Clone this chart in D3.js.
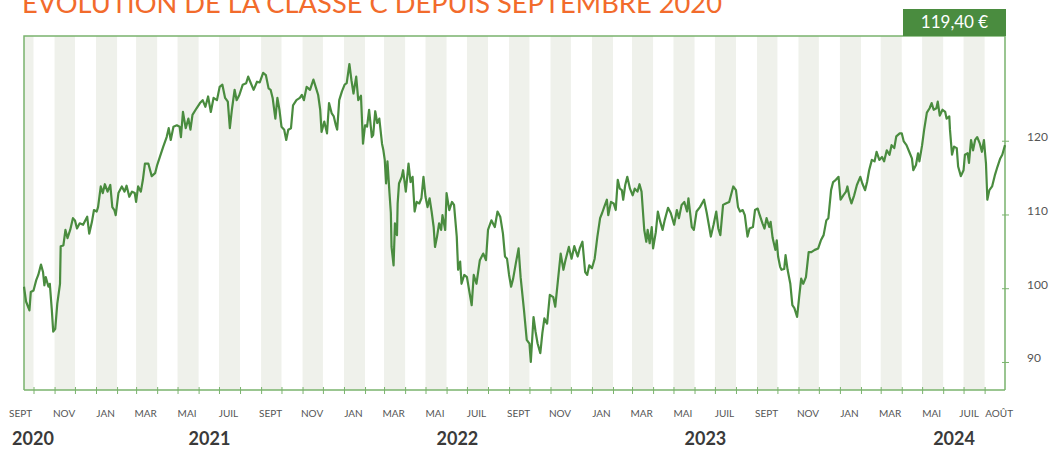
<!DOCTYPE html>
<html>
<head>
<meta charset="utf-8">
<script src="https://cdn.jsdelivr.net/npm/d3@7"></script>
<style>
  body { margin: 0; background: #fff; }
  svg { display: block; font-family: Lato, "Open Sans", sans-serif; }
</style>
</head>
<body>
<div id="chart"></div>
<script>
// series: days since startDate, and the share value
const startDate = "2020-09-17";
const endDate = "2024-08-31";
const seriesDays = [
  0,3,8,10,14,18,21,25,28,30,32,36,38,41,43,46,49,53,54,58,61,64,68,72,75,78,82,87,93,96,
  100,103,107,109,113,116,119,123,127,130,133,135,139,144,148,151,155,159,163,165,168,172,175,178,183,188,193,196,200,205,
  210,213,216,220,225,229,231,234,238,242,245,248,254,259,263,267,271,275,279,284,288,292,296,300,303,306,310,313,317,322,
  327,330,333,338,343,347,352,356,360,363,366,370,373,376,379,383,386,389,393,396,401,406,409,412,416,421,426,430,433,436,
  438,442,446,449,453,456,459,461,464,468,472,475,479,482,485,489,492,496,499,502,505,508,512,514,517,520,523,527,529,531,
  533,535,538,540,541,544,546,549,550,552,556,558,562,566,569,572,575,578,582,585,588,591,594,597,600,603,605,608,611,614,
  616,620,622,626,630,633,637,639,642,644,648,652,656,659,662,666,671,676,680,683,688,693,697,701,705,708,711,714,717,720,
  724,728,731,736,740,744,746,750,753,756,760,763,766,770,774,779,782,787,790,794,797,802,806,810,815,818,822,826,829,832,
  836,840,844,848,851,854,858,860,864,868,871,874,877,880,882,885,888,892,896,899,903,906,909,913,916,918,921,924,926,930,
  933,936,940,943,948,952,957,961,964,968,972,976,978,980,983,986,990,995,1001,1005,1009,1011,1015,1019,1022,1025,1029,1033,1038,1044,
  1048,1051,1054,1058,1061,1065,1068,1073,1076,1080,1083,1087,1090,1093,1097,1099,1102,1106,1108,1110,1113,1115,1119,1121,1124,1128,1131,1134,1138,1141,
  1144,1147,1151,1155,1159,1164,1169,1173,1177,1181,1184,1188,1191,1195,1199,1202,1206,1210,1212,1215,1218,1222,1226,1231,1234,1238,1241,1244,1248,1252,
  1255,1259,1263,1266,1270,1274,1277,1281,1284,1289,1292,1295,1299,1303,1307,1309,1313,1316,1318,1322,1325,1329,1333,1336,1339,1343,1345,1348,1352,1356,
  1358,1362,1363,1366,1369,1373,1375,1379,1383,1385,1389,1391,1394,1397,1400,1403,1407,1410,1413,1416,1418,1421,1425,1429,1433,1437,1440,1444
];
const seriesValues = [
  100.2,98.2,97.0,99.5,99.7,101.1,101.8,103.2,102.2,100.4,101.5,100.2,100.6,97.0,94.1,94.5,97.9,100.6,105.7,105.8,107.9,106.8,107.9,109.5,109.2,108.1,108.8,108.6,109.7,107.4,
  109.0,110.6,110.4,111.0,113.8,112.9,114.1,113.1,114.0,111.0,110.6,109.9,112.9,113.8,113.1,113.9,112.4,113.1,112.9,111.7,113.8,113.1,114.7,116.9,116.9,115.2,115.6,116.7,117.8,119.2,
  120.5,121.7,120.1,121.9,122.1,121.9,120.5,123.9,121.7,123.0,121.5,123.5,124.4,125.1,125.5,124.6,126.0,123.9,125.8,125.5,127.3,127.6,125.8,125.3,121.7,124.2,126.9,125.5,126.2,127.6,
  127.8,128.7,128.0,126.9,128.0,127.9,129.2,128.9,127.1,126.9,125.8,123.0,125.8,124.2,121.9,121.5,120.1,121.5,121.7,124.8,125.5,125.8,126.2,125.5,127.3,126.9,128.3,127.1,126.2,124.2,
  121.2,122.6,121.0,125.1,123.7,123.3,122.1,121.5,125.5,126.7,127.6,127.8,130.4,128.2,126.4,128.7,125.5,126.1,119.6,122.1,121.9,124.2,120.5,120.8,124.0,122.4,123.0,119.6,118.7,117.4,
  114.2,117.2,112.9,110.2,105.6,103.1,108.8,107.2,111.5,114.2,115.1,116.0,113.1,116.9,114.4,115.1,110.4,111.7,111.5,112.2,115.1,112.4,111.0,112.2,110.4,108.3,105.6,107.0,108.8,107.9,
  109.9,107.9,112.9,110.6,111.7,111.3,107.0,102.5,103.6,100.6,101.8,101.5,99.3,97.7,101.8,100.6,103.8,104.7,103.8,107.9,109.2,108.3,110.4,109.7,107.4,104.3,104.0,101.8,100.2,101.3,
  103.4,105.4,101.5,97.0,93.0,92.5,90.0,96.1,94.1,92.5,91.2,93.9,95.9,95.2,99.1,98.8,97.5,102.0,104.7,102.5,103.8,105.6,104.0,105.7,104.3,105.4,106.3,102.2,101.8,103.1,
  102.7,104.0,107.0,109.5,110.2,111.0,112.0,109.9,111.7,111.5,110.6,114.7,113.5,113.3,112.0,114.0,115.1,113.5,112.6,113.5,113.1,114.1,113.1,107.9,106.3,107.9,106.1,108.3,105.4,107.6,
  110.4,109.2,107.9,109.2,110.9,110.2,108.6,110.6,109.5,111.3,111.7,110.4,112.2,110.6,108.3,107.9,110.4,111.0,112.0,110.2,108.1,107.0,108.6,110.4,108.1,107.2,111.3,111.5,111.7,113.8,
  113.3,111.0,110.4,110.6,109.9,107.0,108.1,108.3,110.6,110.8,109.9,108.8,108.1,109.5,108.3,109.0,106.8,105.2,106.5,104.3,102.9,102.5,102.6,104.5,102.5,100.6,97.7,97.3,96.1,98.8,
  101.3,100.6,101.5,104.9,104.9,105.2,105.4,106.5,107.2,109.2,109.5,113.3,114.4,114.7,115.1,112.0,112.6,113.1,113.8,112.4,111.5,112.6,114.0,115.1,114.2,113.3,114.4,116.0,117.4,117.2,
  118.5,117.4,117.8,117.2,118.7,118.1,119.4,119.0,120.6,121.0,121.0,119.9,119.4,118.5,117.6,116.0,116.7,118.3,117.2,119.4,121.5,123.8,124.4,125.1,124.2,124.4,125.3,123.4,124.2,123.9,
  123.0,123.3,121.5,118.1,119.2,119.0,116.5,115.2,116.0,118.1,118.3,117.0,120.1,118.7,120.1,120.5,119.6,118.5,120.1,116.9,112.0,113.3,113.8,115.3,116.5,117.6,118.1,119.4
];

const titleText = "ÉVOLUTION DE LA CLASSE C DEPUIS SEPTEMBRE 2020";
const lastValueLabel = "119,40 €";
const monthNames = ["JAN", "FÉV", "MAR", "AVR", "MAI", "JUIN", "JUIL", "AOÛT", "SEPT", "OCT", "NOV", "DÉC"];
const years = [2020, 2021, 2022, 2023, 2024];
const yTicks = [90, 100, 110, 120];
const yDomain = [86.2, 134.2];

const W = 1051, H = 449;
const plotLeft = 24, plotRight = 1005, plotTop = 36, plotBottom = 390;

const green = "#4a8c3f", frame = "#7ab36d", stripe = "#eff1eb";

const parse = d3.timeParse("%Y-%m-%d");
const t0 = parse(startDate), t1 = parse(endDate);
const data = seriesDays.map((d, i) => ({date: d3.timeDay.offset(t0, d), value: seriesValues[i]}));

const svg = d3.select("#chart").append("svg")
  .attr("width", W).attr("height", H);

const x = d3.scaleTime().domain([t0, t1]).range([plotLeft, plotRight]);
const y = d3.scaleLinear().domain(yDomain).range([plotBottom, plotTop]);

// alternating month stripes (odd months shaded)
const months = d3.timeMonth.range(d3.timeMonth.floor(t0), t1);
svg.append("g").selectAll("rect")
  .data(months.filter(m => m.getMonth() % 2 === 0))
  .join("rect")
  .attr("x", m => x(d3.max([m, t0])))
  .attr("width", m => x(d3.min([d3.timeMonth.offset(m, 1), t1])) - x(d3.max([m, t0])))
  .attr("y", plotTop)
  .attr("height", plotBottom - plotTop)
  .attr("fill", stripe);

// frame
svg.append("path")
  .attr("d", `M${plotLeft},${plotBottom}V${plotTop}H${plotRight}V${plotBottom}`)
  .attr("fill", "none")
  .attr("stroke", frame)
  .attr("stroke-width", 1.5);

// x axis: ticks at month starts
const xAxis = svg.append("g")
  .attr("transform", `translate(0,${plotBottom})`)
  .call(d3.axisBottom(x)
    .tickValues(months.slice(1))
    .tickSizeInner(4).tickSizeOuter(0)
    .tickFormat(""));
xAxis.select(".domain").attr("stroke", frame).attr("stroke-width", 1.5)
  .attr("d", `M${plotLeft},0H${plotRight}`);
xAxis.selectAll(".tick line").attr("stroke", frame).attr("y1", -3).attr("y2", 4);

// month labels
const labelled = months.filter((m, i) => m.getMonth() % 2 === 0 || i === months.length - 1);
svg.append("g").selectAll("text")
  .data(labelled)
  .join("text")
  .attr("x", (m, i) => {
    const mid = x(new Date(m.getFullYear(), m.getMonth(), 15));
    if (i === 0) return mid - 2;
    if (i === labelled.length - 1) return mid + 5;
    if (i === labelled.length - 2) return mid - 4;
    return mid;
  })
  .attr("y", 417)
  .attr("text-anchor", "middle")
  .attr("fill", "#555")
  .style("font-size", "10px")
  .text(m => monthNames[m.getMonth()]);

// year labels
svg.append("g").selectAll("text")
  .data(years)
  .join("text")
  .attr("x", yr => Math.max(x(new Date(yr, 5, 17)), 33))
  .attr("y", 445)
  .attr("text-anchor", "middle")
  .attr("fill", "#3a3a3a")
  .style("font-size", "18px")
  .style("font-weight", "bold")
  .text(yr => yr);

// y axis on the right
const yAxis = svg.append("g")
  .attr("transform", `translate(${plotRight},0)`)
  .call(d3.axisRight(y).tickValues(yTicks).tickSize(4).tickPadding(18));
yAxis.select(".domain").remove();
yAxis.selectAll(".tick line").attr("stroke", frame).attr("x1", -3).attr("x2", 4);
yAxis.selectAll(".tick text")
  .attr("fill", "#555")
  .attr("dy", "0")
  .style("font-size", "12px")
  .style("font-family", "Lato, sans-serif");

// the line
svg.append("path")
  .datum(data)
  .attr("fill", "none")
  .attr("stroke", green)
  .attr("stroke-width", 2.2)
  .attr("stroke-linejoin", "round")
  .attr("d", d3.line().x(d => x(d.date)).y(d => y(d.value)));

// title (top part is cut by the page edge, as in the original)
svg.append("text")
  .attr("x", 22)
  .attr("y", 13)
  .attr("fill", "#f26b2c")
  .attr("textLength", 700)
  .attr("lengthAdjust", "spacingAndGlyphs")
  .style("font-size", "26px")
  .text(titleText);

// last value badge
svg.append("rect")
  .attr("x", 903).attr("y", 9)
  .attr("width", plotRight + 1 - 903).attr("height", plotTop - 9)
  .attr("fill", green);
svg.append("text")
  .attr("x", (903 + plotRight + 1) / 2)
  .attr("y", 28)
  .attr("text-anchor", "middle")
  .attr("fill", "#fff")
  .style("font-size", "17px")
  .text(lastValueLabel);
</script>
</body>
</html>
